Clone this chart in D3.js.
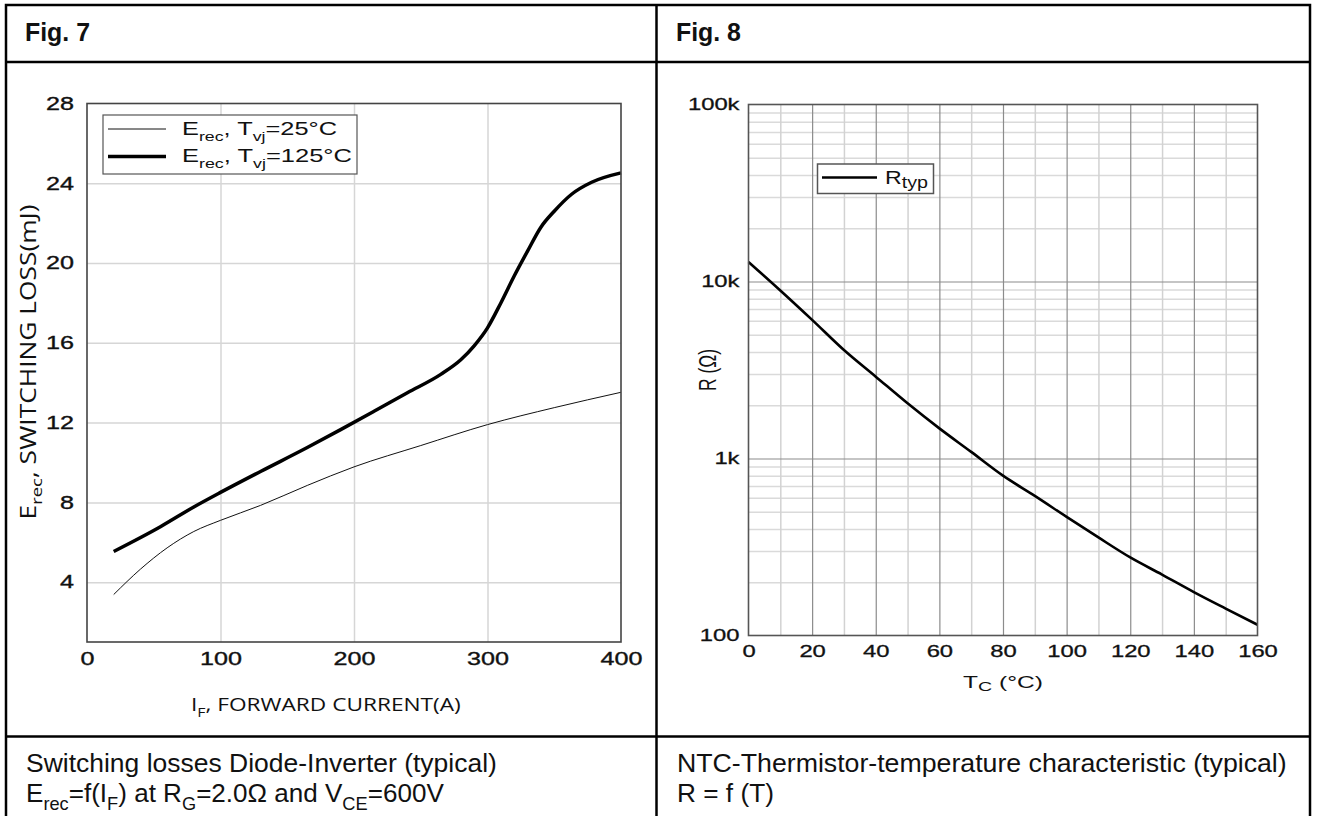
<!DOCTYPE html>
<html>
<head>
<meta charset="utf-8">
<script src="https://cdn.jsdelivr.net/npm/d3@7"></script>
<style>
  body { margin: 0; background: #fff; }
  svg { display: block; }
</style>
</head>
<body>
<svg id="chart" width="1317" height="816"></svg>
<script>
// Fig. 7 - switching losses diode
const currentTicks = [0, 100, 200, 300, 400];
const currentGrid = [100, 200, 300];
const lossTicks = [4, 8, 12, 16, 20, 24, 28];
const lossGrid = [4, 8, 12, 16, 20, 24];
const current25 = [20, 40, 60, 80, 100, 130, 165, 200, 250, 300, 350, 400];
const loss25 = [3.38, 4.65, 5.72, 6.54, 7.1, 7.85, 8.85, 9.78, 10.85, 11.9, 12.75, 13.52];
const current125 = [20, 55, 80, 100, 130, 165, 190, 215, 240, 265, 280, 290, 300, 310, 320, 330, 340, 350, 363, 378, 400];
const loss125 = [5.54, 6.78, 7.77, 8.5, 9.55, 10.75, 11.65, 12.57, 13.5, 14.42, 15.15, 15.85, 16.75, 18.0, 19.35, 20.6, 21.8, 22.6, 23.45, 24.05, 24.52];

// Fig. 8 - NTC
const tempTicks = [0, 20, 40, 60, 80, 100, 120, 140, 160];
const tempMinor = [10, 30, 50, 70, 90, 110, 130, 150];
const resTicks = [100, 1000, 10000, 100000];
const resTickLabels = ['100', '1k', '10k', '100k'];
const ntcTemp = [0, 10, 20, 30, 40, 50, 60, 70, 80, 90, 100, 110, 120, 130, 140, 150, 160];
const ntcR = [12900, 8900, 6070, 4100, 2900, 2050, 1480, 1090, 800, 615, 468, 358, 276, 221, 176, 142, 115];

const sans = '"Liberation Sans", Arial, sans-serif';
const calibri = '"Open Sans", sans-serif';

const svg = d3.select('#chart');

// text with subscripts: parts are strings or {sub: '...'}
function rich(parent, x, y, parts, size, family, anchor, subScale = 0.7, subShift = 0.3) {
  const t = parent.append('text')
    .attr('x', x).attr('y', y)
    .attr('font-family', family)
    .attr('font-size', size)
    .attr('fill', '#111')
    .attr('text-anchor', anchor || 'start');
  let shift = 0;
  parts.forEach(p => {
    if (typeof p === 'string') {
      t.append('tspan').attr('dy', -shift).text(p);
      shift = 0;
    } else {
      const d = size * subShift;
      t.append('tspan').attr('font-size', size * subScale).attr('dy', d - shift).text(p.sub);
      shift = d;
    }
  });
  return t;
}

// squeeze / stretch text horizontally to a given width (sy stretches across)
function fit(t, width, sy = 1) {
  const len = t.node().getComputedTextLength();
  const x = +t.attr('x') || 0;
  const y = +t.attr('y') || 0;
  t.attr('transform', `translate(${x},${y}) scale(${width / len},${sy}) translate(${-x},${-y})`);
  return t;
}

function widen(sel, s) {
  sel.each(function () {
    const t = d3.select(this);
    const x = +t.attr('x') || 0;
    t.attr('transform', `translate(${x},0) scale(${s},1) translate(${-x},0)`);
  });
}

// table frame
const frame = svg.append('g').attr('stroke', '#000').attr('stroke-width', 2.5).attr('fill', 'none');
frame.append('rect').attr('x', 6).attr('y', 5).attr('width', 1304).attr('height', 830);
frame.append('line').attr('x1', 6).attr('x2', 1310).attr('y1', 62).attr('y2', 62);
frame.append('line').attr('x1', 6).attr('x2', 1310).attr('y1', 736.5).attr('y2', 736.5);
frame.append('line').attr('x1', 656.5).attr('x2', 656.5).attr('y1', 5).attr('y2', 830);

fit(svg.append('text').attr('x', 25).attr('y', 41).attr('font-family', sans)
  .attr('font-size', 25).attr('font-weight', 'bold').attr('fill', '#111').text('Fig. 7'), 65);
fit(svg.append('text').attr('x', 676).attr('y', 41).attr('font-family', sans)
  .attr('font-size', 25).attr('font-weight', 'bold').attr('fill', '#111').text('Fig. 8'), 65);

// ---------- Fig. 7 ----------
const L = { x0: 87, x1: 621, y0: 103.5, y1: 642 };
const xL = d3.scaleLinear().domain([0, 400]).range([L.x0, L.x1]);
const yL = d3.scaleLinear().domain([1, 28]).range([L.y1, L.y0]);
const gL = svg.append('g');

gL.append('g').attr('transform', `translate(0,${L.y1})`)
  .call(d3.axisBottom(xL).tickValues(currentGrid).tickSize(-(L.y1 - L.y0)).tickFormat(''))
  .call(g => g.select('.domain').remove())
  .selectAll('line').attr('stroke', '#d6d6d6').attr('stroke-width', 1.5);
gL.append('g').attr('transform', `translate(${L.x0},0)`)
  .call(d3.axisLeft(yL).tickValues(lossGrid).tickSize(-(L.x1 - L.x0)).tickFormat(''))
  .call(g => g.select('.domain').remove())
  .selectAll('line').attr('stroke', '#d6d6d6').attr('stroke-width', 1.5);

const lineL = d3.line().x(d => xL(d[0])).y(d => yL(d[1])).curve(d3.curveMonotoneX);
gL.append('path').datum(d3.zip(current25, loss25)).attr('d', lineL)
  .attr('fill', 'none').attr('stroke', '#111').attr('stroke-width', 1);
gL.append('path').datum(d3.zip(current125, loss125)).attr('d', lineL)
  .attr('fill', 'none').attr('stroke', '#000').attr('stroke-width', 3.5);

gL.append('rect').attr('x', L.x0).attr('y', L.y0).attr('width', L.x1 - L.x0).attr('height', L.y1 - L.y0)
  .attr('fill', 'none').attr('stroke', '#444').attr('stroke-width', 1.6);

const axL = gL.append('g').attr('transform', `translate(${L.x0},0)`)
  .call(d3.axisLeft(yL).tickValues(lossTicks).tickSize(0).tickPadding(13))
  .call(g => g.select('.domain').remove());
const axB = gL.append('g').attr('transform', `translate(0,${L.y1})`)
  .call(d3.axisBottom(xL).tickValues(currentTicks).tickSize(0).tickPadding(10))
  .call(g => g.select('.domain').remove());
[axL, axB].forEach(a => {
  a.selectAll('text').attr('font-family', sans).attr('font-size', 18).attr('fill', '#111')
    .attr('stroke', '#111').attr('stroke-width', 0.35);
  widen(a.selectAll('text'), 1.4);
});

// legend
gL.append('rect').attr('x', 103).attr('y', 115).attr('width', 254).attr('height', 59)
  .attr('fill', '#fff').attr('stroke', '#555').attr('stroke-width', 1.2);
gL.append('line').attr('x1', 108).attr('x2', 166).attr('y1', 129).attr('y2', 129)
  .attr('stroke', '#111').attr('stroke-width', 1);
gL.append('line').attr('x1', 108).attr('x2', 166).attr('y1', 156.5).attr('y2', 156.5)
  .attr('stroke', '#000').attr('stroke-width', 3.5);
fit(rich(gL, 182, 135, ['E', { sub: 'rec' }, ', T', { sub: 'vj' }, '=25°C'], 18.5, sans), 155);
fit(rich(gL, 182, 162.5, ['E', { sub: 'rec' }, ', T', { sub: 'vj' }, '=125°C'], 18.5, sans), 170);

// axis titles
fit(rich(gL, 191, 711, ['I', { sub: 'F' }, ', FORWARD CURRENT(A)'], 19, calibri), 270);
const yTitle = gL.append('g').attr('transform', 'translate(36,362) rotate(-90)');
fit(rich(yTitle, 0, 0, ['E', { sub: 'rec' }, ', SWITCHING LOSS(mJ)'], 21, calibri, 'middle'), 315);

// ---------- Fig. 8 ----------
const R = { x0: 748.5, x1: 1257.5, y0: 104.5, y1: 635.5 };
const xR = d3.scaleLinear().domain([0, 160]).range([R.x0, R.x1]);
const yR = d3.scaleLog().domain([100, 100000]).range([R.y1, R.y0]);
const gR = svg.append('g');

const resMinor = [];
resTicks.slice(0, 3).forEach(d => { for (let k = 2; k <= 9; k++) resMinor.push(d * k); });

gR.append('g').attr('transform', `translate(${R.x0},0)`)
  .call(d3.axisLeft(yR).tickValues(resMinor).tickSize(-(R.x1 - R.x0)).tickFormat(''))
  .call(g => g.select('.domain').remove())
  .selectAll('line').attr('stroke', '#dadada').attr('stroke-width', 1.5);
gR.append('g').attr('transform', `translate(0,${R.y1})`)
  .call(d3.axisBottom(xR).tickValues(tempMinor).tickSize(-(R.y1 - R.y0)).tickFormat(''))
  .call(g => g.select('.domain').remove())
  .selectAll('line').attr('stroke', '#d2d2d2').attr('stroke-width', 1.5);
gR.append('g').attr('transform', `translate(0,${R.y1})`)
  .call(d3.axisBottom(xR).tickValues(tempTicks.slice(1, -1)).tickSize(-(R.y1 - R.y0)).tickFormat(''))
  .call(g => g.select('.domain').remove())
  .selectAll('line').attr('stroke', '#8c8c8c').attr('stroke-width', 1.2);
gR.append('g').attr('transform', `translate(${R.x0},0)`)
  .call(d3.axisLeft(yR).tickValues(resTicks.slice(1, -1)).tickSize(-(R.x1 - R.x0)).tickFormat(''))
  .call(g => g.select('.domain').remove())
  .selectAll('line').attr('stroke', '#8c8c8c').attr('stroke-width', 1.2);

const lineR = d3.line().x(d => xR(d[0])).y(d => yR(d[1])).curve(d3.curveMonotoneX);
gR.append('path').datum(d3.zip(ntcTemp, ntcR)).attr('d', lineR)
  .attr('fill', 'none').attr('stroke', '#000').attr('stroke-width', 2.6);

gR.append('rect').attr('x', R.x0).attr('y', R.y0).attr('width', R.x1 - R.x0).attr('height', R.y1 - R.y0)
  .attr('fill', 'none').attr('stroke', '#555').attr('stroke-width', 1.6);

const axRL = gR.append('g').attr('transform', `translate(${R.x0},0)`)
  .call(d3.axisLeft(yR).tickValues(resTicks).tickSize(0).tickPadding(9)
    .tickFormat((d, i) => resTickLabels[i]))
  .call(g => g.select('.domain').remove());
const axRB = gR.append('g').attr('transform', `translate(0,${R.y1})`)
  .call(d3.axisBottom(xR).tickValues(tempTicks).tickSize(0).tickPadding(9))
  .call(g => g.select('.domain').remove());
[axRL, axRB].forEach(a => {
  a.selectAll('text').attr('font-family', sans).attr('font-size', 17).attr('fill', '#111')
    .attr('stroke', '#111').attr('stroke-width', 0.3);
  widen(a.selectAll('text'), 1.4);
});

// legend
gR.append('rect').attr('x', 817.5).attr('y', 164).attr('width', 116).attr('height', 29.5)
  .attr('fill', '#fff').attr('stroke', '#555').attr('stroke-width', 1.5);
gR.append('line').attr('x1', 822).attr('x2', 877).attr('y1', 177.5).attr('y2', 177.5)
  .attr('stroke', '#000').attr('stroke-width', 2.6);
fit(rich(gR, 885, 184, ['R', { sub: 'typ' }], 19, sans, 'start', 0.85, 0.2), 43);

// axis titles
const rTitle = gR.append('g').attr('transform', 'translate(716,370) rotate(-90)');
fit(rich(rTitle, 0, 0, ['R (Ω)'], 17, sans, 'middle'), 42, 1.4);
fit(rich(gR, 1003, 688, ['T', { sub: 'C' }, ' (°C)'], 17, sans, 'middle', 0.8, 0.2), 80);

// ---------- captions ----------
fit(rich(svg, 26, 772, ['Switching losses Diode-Inverter (typical)'], 26, sans), 471);
fit(rich(svg, 26, 802, ['E', { sub: 'rec' }, '=f(I', { sub: 'F' }, ') at R', { sub: 'G' }, '=2.0Ω and V', { sub: 'CE' }, '=600V'], 26, sans), 418);
fit(rich(svg, 677, 772, ['NTC-Thermistor-temperature characteristic (typical)'], 26, sans), 610);
fit(rich(svg, 677, 802, ['R = f (T)'], 26, sans), 97);
</script>
</body>
</html>
